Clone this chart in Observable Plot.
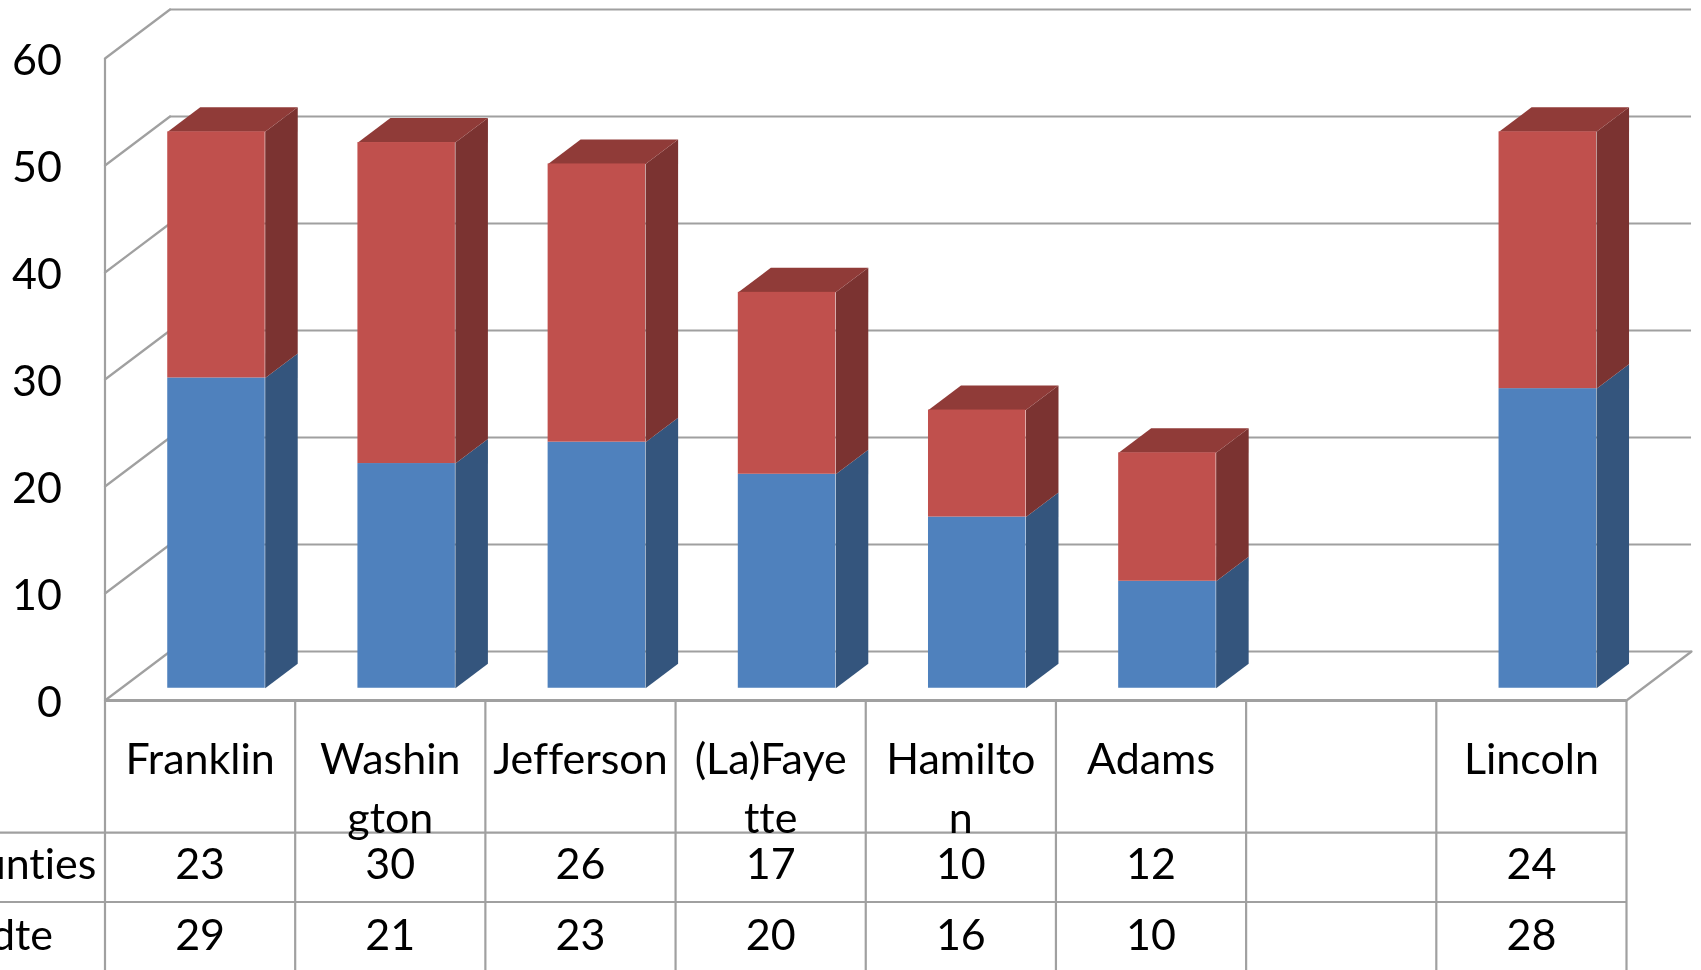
<!DOCTYPE html>
<html>
<head>
<meta charset="utf-8">
<script src="https://cdn.jsdelivr.net/npm/d3@7"></script>
<script src="https://cdn.jsdelivr.net/npm/@observablehq/plot@0.6"></script>
<style>
html,body{margin:0;padding:0;background:#fff;overflow:hidden}
svg{display:block;filter:blur(0.65px)}
svg text{font-variant-ligatures:none}
</style>
</head>
<body>
<div id="chart"></div>
<script>
const categories = ["Franklin", "Washin\ngton", "Jefferson", "(La)Faye\ntte", "Hamilto\nn", "Adams", "", "Lincoln"];
const counties = [23, 30, 26, 17, 10, 12, null, 24];
const dte = [29, 21, 23, 20, 16, 10, null, 28];
const rowLabels = ["unties", "dte"];
const rowLabelEnds = [-0.045, -0.273];
const yTicks = [0, 10, 20, 30, 40, 50, 60];

// Oblique projection: depth d (0 front .. 1 back) shifts a point in data units
const depthX = 65 / 190.12, depthY = 49 / 10.7;
const px = (u, d) => u + d * depthX;
const py = (v, d) => v + d * depthY;
const n = categories.length;
const barLeft = 0.2444, barWidth = 0.5125, dFront = 0.25, dBack = 0.75;

// Table row edges, in value units below the zero line
const rowTop = -12.34, rowMid = -18.83, rowEnd = -25.3, leftEdge = -0.552;
const labelY = -2.95, row1Y = -15.4, row2Y = -22.0;

// Wall and floor lines
const backGrid = yTicks.map(v => ({x1: px(0, 1), x2: px(n, 1), y: py(v, 1)}));
const wallLines = yTicks.flatMap(v => [
  {id: v, x: px(0, 0), y: py(v, 0)},
  {id: v, x: px(0, 1), y: py(v, 1)}
]);
const floorRight = [{x: px(n, 0), y: 0}, {x: px(n, 1), y: py(0, 1)}];

// Bar faces built from the values
const segments = [];
categories.forEach((c, i) => {
  if (dte[i] == null) return;
  segments.push({i, y0: 0, y1: dte[i], s: "dte"});
  segments.push({i, y0: dte[i], y1: dte[i] + counties[i], s: "counties"});
});
const front = segments.map(g => ({
  s: g.s,
  x1: px(g.i + barLeft, dFront), x2: px(g.i + barLeft + barWidth, dFront),
  y1: py(g.y0, dFront), y2: py(g.y1, dFront)
}));
const sideOf = g => {
  const r = g.i + barLeft + barWidth;
  return [
    [r, g.y0, dFront], [r, g.y0, dBack], [r, g.y1, dBack], [r, g.y1, dFront]
  ].map(([u, v, d]) => ({id: g.i + g.s, x: px(u, d), y: py(v, d)}));
};
const blueSides = segments.filter(g => g.s === "dte").flatMap(sideOf);
const redSides = segments.filter(g => g.s === "counties").flatMap(sideOf);
const tops = segments.filter(g => g.s === "counties").flatMap(g => {
  const l = g.i + barLeft, r = l + barWidth;
  return [[l, dFront], [l, dBack], [r, dBack], [r, dFront]]
    .map(([u, d]) => ({id: g.i, x: px(u, d), y: py(g.y1, d)}));
});

const tableVerticals = d3.range(n + 1);
const cells = categories.map((c, i) => ({i, c, a: counties[i], b: dte[i]}));
const gridColor = "#a0a0a0";
const font = {fontFamily: "Lato, Carlito, sans-serif", fontSize: 43, fill: "#000"};

const chart = Plot.plot({
  width: 1701, height: 970,
  marginLeft: 104.5, marginRight: 75, marginTop: 58, marginBottom: 270,
  x: {domain: [0, n], axis: null},
  y: {domain: [0, 60]},
  style: {background: "#fff", overflow: "hidden"},
  marks: [
    // back wall and side wall
    Plot.ruleY(backGrid, {x1: "x1", x2: "x2", y: "y", stroke: gridColor, strokeWidth: 2.2}),
    Plot.line(wallLines, {x: "x", y: "y", z: "id", stroke: gridColor, strokeWidth: 2.2}),
    Plot.line(floorRight, {x: "x", y: "y", stroke: gridColor, strokeWidth: 2.2}),
    Plot.ruleX([0], {y1: 0, y2: 60, stroke: gridColor, strokeWidth: 2.2}),

    // table
    Plot.ruleX(tableVerticals, {y1: 0, y2: rowEnd, stroke: gridColor, strokeWidth: 2.2}),
    Plot.ruleY([0], {x1: 0, x2: n, stroke: gridColor, strokeWidth: 2.8}),
    Plot.ruleY([rowTop, rowMid], {x1: leftEdge, x2: n, stroke: gridColor, strokeWidth: 2.2}),

    // bars
    Plot.line(blueSides, {x: "x", y: "y", z: "id", fill: "#34557d", stroke: "none"}),
    Plot.line(redSides, {x: "x", y: "y", z: "id", fill: "#7b3331", stroke: "none"}),
    Plot.line(tops, {x: "x", y: "y", z: "id", fill: "#903b38", stroke: "none"}),
    Plot.rect(front.filter(d => d.s === "dte"), {x1: "x1", x2: "x2", y1: "y1", y2: "y2", fill: "#4f81bd"}),
    Plot.rect(front.filter(d => d.s === "counties"), {x1: "x1", x2: "x2", y1: "y1", y2: "y2", fill: "#c0504d"}),

    // value axis
    Plot.axisY({
      ticks: yTicks, anchor: "left", tickSize: 0, tickPadding: 43, label: null, dy: 3,
      fontSize: 43, fontFamily: font.fontFamily, color: "#000", fill: "#000"
    }),

    // table text
    Plot.text(cells, {
      x: d => d.i + 0.5, y: labelY, text: "c", lineAnchor: "top", lineHeight: 1.37,
      textAnchor: "middle", ...font
    }),
    Plot.text(cells.filter(d => d.a != null), {x: d => d.i + 0.5, y: row1Y, text: d => String(d.a), ...font}),
    Plot.text(cells.filter(d => d.b != null), {x: d => d.i + 0.5, y: row2Y, text: d => String(d.b), ...font}),
    Plot.text(rowLabels, {
      x: (d, i) => rowLabelEnds[i], y: (d, i) => i === 0 ? row1Y : row2Y, text: d => d,
      textAnchor: "end", ...font
    })
  ]
});
document.getElementById("chart").appendChild(chart);
</script>
</body>
</html>
